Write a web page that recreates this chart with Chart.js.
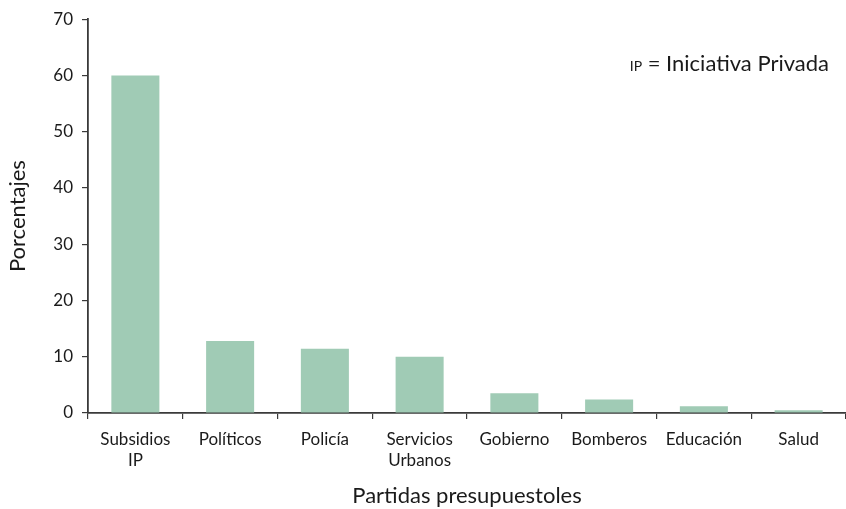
<!DOCTYPE html>
<html>
<head>
<meta charset="utf-8">
<script src="https://cdn.jsdelivr.net/npm/chart.js@4.4.1/dist/chart.umd.min.js"></script>
<style>
  html, body { margin: 0; padding: 0; background: #ffffff; }
  #wrap { width: 846px; height: 509px; position: relative; }
</style>
</head>
<body>
<div id="wrap"><canvas id="c" width="846" height="509"></canvas></div>
<script>
const categories = [["Subsidios", "IP"], "Políticos", "Policía", ["Servicios", "Urbanos"], "Gobierno", "Bomberos", "Educación", "Salud"];
const porcentajes = [60, 12.8, 11.4, 10, 3.5, 2.4, 1.2, 0.5];
const yTitle = "Porcentajes";
const xTitle = "Partidas presupuestoles";
const noteAbbr = "IP";
const noteText = " = Iniciativa Privada";

const FONT = "Lato, 'DejaVu Sans', sans-serif";
const INK = "#1a1a1a";
const AXIS = "#3a3a3a";

const notePlugin = {
  id: "note",
  afterDraw(chart) {
    const ctx = chart.ctx;
    const area = chart.chartArea;
    ctx.save();
    ctx.fillStyle = INK;
    ctx.textBaseline = "alphabetic";
    ctx.font = "22px " + FONT;
    const wText = ctx.measureText(noteText).width;
    ctx.font = "14px " + FONT;
    const wAbbr = ctx.measureText(noteAbbr).width;
    const right = area.right - 17;
    const base = area.top + 52;
    const x0 = right - wText - wAbbr;
    ctx.textAlign = "left";
    ctx.fillText(noteAbbr, x0, base);
    ctx.font = "22px " + FONT;
    ctx.fillText(noteText, x0 + wAbbr, base);
    ctx.restore();
  }
};

new Chart(document.getElementById("c"), {
  type: "bar",
  data: {
    labels: categories,
    datasets: [{
      data: porcentajes,
      backgroundColor: "#a0cbb5",
      borderWidth: 0,
      categoryPercentage: 1.0,
      barPercentage: 0.507
    }]
  },
  options: {
    responsive: false,
    animation: false,
    devicePixelRatio: 1,
    layout: { padding: { top: 13, right: 0, bottom: 0, left: 0 } },
    plugins: { legend: { display: false }, tooltip: { enabled: false } },
    scales: {
      x: {
        offset: true,
        grid: { offset: true, drawOnChartArea: false, drawTicks: true, tickLength: 6, color: AXIS, lineWidth: 1.2 },
        border: { display: true, color: AXIS, width: 1.8 },
        ticks: { color: INK, font: { family: FONT, size: 17, lineHeight: 1.25 }, padding: 10, maxRotation: 0, autoSkip: false },
        title: { display: true, text: xTitle, color: INK, font: { family: FONT, size: 22 }, padding: { top: 4, bottom: 0 } },
        afterFit(scale) { scale.height = 96; }
      },
      y: {
        min: 0, max: 70,
        ticks: { stepSize: 10, color: INK, font: { family: FONT, size: 17 }, padding: 9 },
        grid: { drawOnChartArea: false, drawTicks: true, tickLength: 6, color: AXIS, lineWidth: 1.2 },
        border: { display: true, color: AXIS, width: 1.8 },
        title: { display: true, text: yTitle, color: INK, font: { family: FONT, size: 22 }, padding: { top: 5, bottom: 6 } },
        afterFit(scale) { scale.width = 88; }
      }
    }
  },
  plugins: [notePlugin]
});
</script>
</body>
</html>
